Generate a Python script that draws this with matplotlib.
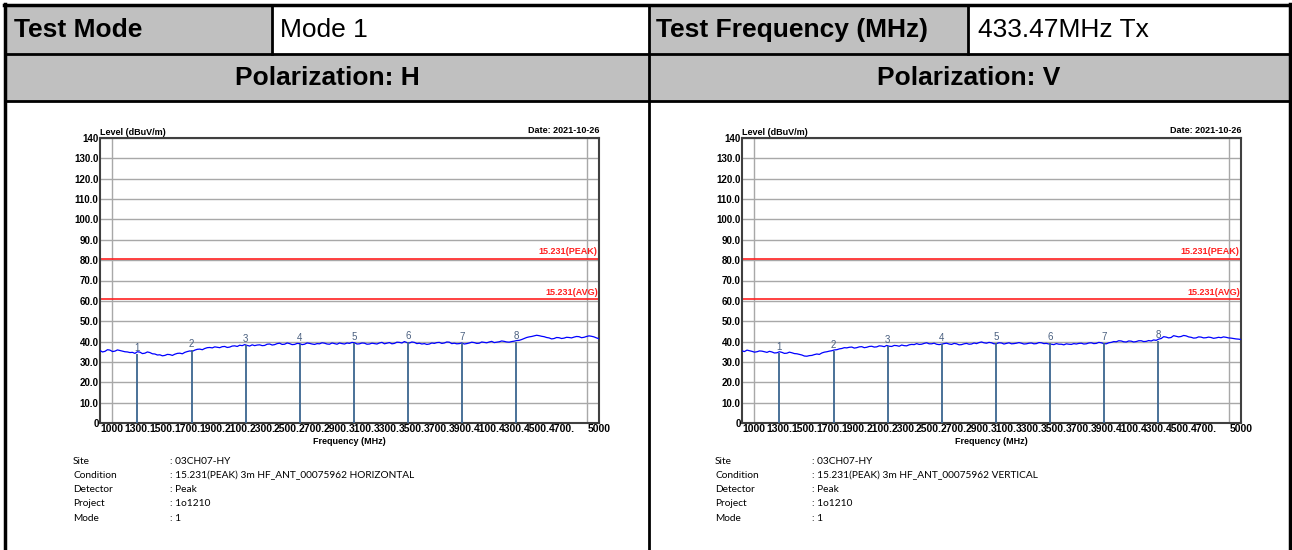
import matplotlib
matplotlib.use("Agg")
import matplotlib.pyplot as plt
from matplotlib.patches import Rectangle
from matplotlib.transforms import ScaledTranslation
import numpy as np

# header table
header_left = ["Test Mode", "Mode 1"]
header_right = ["Test Frequency (MHz)", "433.47MHz Tx"]
polarizations = ["Polarization: H", "Polarization: V"]

# x axis labels of the spectrum plots
tick_freqs = [1000, 1300, 1500, 1700, 1900, 2100, 2300, 2500, 2700, 2900,
              3100, 3300, 3500, 3700, 3900, 4100, 4300, 4500, 4700, 5000]
tick_texts = ["1000"] + [f"{f}." for f in tick_freqs[1:-1]] + ["5000"]

# limit lines (dBuV/m)
limit_peak = 80.8
limit_avg = 60.8

# harmonic markers 1..8 (MHz) and their levels
marker_freq = [1300.4, 1733.9, 2167.4, 2600.8, 3034.3, 3467.8, 3901.2, 4334.7]
marker_h = [34.0, 35.8, 38.3, 38.9, 39.2, 39.6, 39.3, 40.0]
marker_v = [34.6, 35.6, 37.8, 38.7, 39.4, 39.4, 39.4, 40.3]

# sweep traces, 1000..5000 MHz in 20 MHz steps
level_h = [35.6, 34.9, 35.2, 36.0, 35.8, 35.1, 35.3, 35.9, 35.6, 35.3, 35.0, 34.9, 34.6, 34.7, 34.2, 35.0,
           34.8, 34.1, 34.3, 34.9, 34.6, 34.0, 33.9, 33.4, 33.5, 33.0, 33.2, 33.7, 33.6, 33.2, 33.8, 34.2,
           34.3, 34.0, 34.7, 35.1, 35.4, 35.2, 35.8, 36.2, 36.3, 36.0, 36.6, 37.0, 37.1, 36.9, 37.4, 37.2,
           37.0, 37.5, 37.6, 37.1, 37.3, 37.8, 37.9, 37.6, 38.2, 38.0, 38.5, 38.1, 37.8, 38.4, 38.0, 38.3,
           38.4, 38.0, 38.1, 38.7, 38.8, 38.3, 38.5, 39.0, 39.2, 38.6, 38.7, 39.3, 39.0, 38.5, 38.6, 39.1,
           39.0, 38.5, 38.7, 39.3, 39.1, 38.8, 38.6, 39.0, 38.9, 39.4, 39.2, 38.8, 38.7, 39.3, 39.0, 38.7,
           39.3, 39.0, 38.8, 39.3, 39.1, 39.6, 39.4, 38.8, 38.9, 39.3, 39.2, 38.7, 38.8, 39.2, 39.0, 38.8,
           39.3, 39.6, 38.9, 39.2, 39.5, 38.9, 39.1, 39.7, 39.6, 39.3, 40.0, 39.5, 39.3, 39.8, 39.6, 39.0,
           39.2, 38.8, 39.0, 38.6, 38.8, 39.3, 39.1, 39.5, 39.6, 39.1, 39.3, 39.8, 39.7, 39.0, 39.2, 38.9,
           39.0, 39.3, 38.8, 39.0, 39.3, 39.7, 39.5, 39.1, 39.2, 39.8, 39.6, 39.4, 39.8, 40.1, 39.5, 39.7,
           39.9, 40.3, 40.1, 39.8, 39.7, 40.0, 40.2, 40.5, 40.6, 41.0, 41.5, 42.0, 42.3, 42.5, 42.8, 43.1,
           42.9, 42.6, 42.4, 42.0, 41.8, 41.3, 41.5, 42.0, 41.9, 41.5, 41.7, 42.1, 42.0, 41.8, 42.2, 42.5,
           42.4, 41.9, 42.1, 42.5, 42.8, 42.6, 42.3, 41.8, 41.4]
level_v = [35.4, 35.1, 35.8, 35.5, 35.2, 34.8, 35.0, 35.4, 35.3, 35.0, 34.7, 35.2, 34.9, 34.4, 34.5, 35.0,
           34.7, 34.2, 34.3, 34.8, 34.5, 34.1, 34.0, 33.7, 33.4, 32.9, 32.8, 33.1, 33.2, 33.6, 33.9, 33.7,
           34.4, 34.8, 35.0, 35.3, 35.5, 35.9, 36.0, 36.4, 36.6, 37.0, 36.9, 37.2, 37.3, 36.8, 37.0, 37.4,
           37.5, 37.0, 37.2, 37.6, 37.7, 37.3, 37.4, 37.9, 37.8, 37.5, 38.1, 37.7, 37.6, 38.1, 38.0, 37.7,
           38.3, 38.0, 37.9, 38.4, 38.6, 38.5, 39.0, 38.6, 38.7, 39.1, 39.4, 38.9, 38.9, 39.2, 38.7, 38.5,
           38.7, 39.0, 39.2, 38.8, 38.6, 39.1, 38.9, 38.4, 38.5, 38.9, 39.1, 38.7, 38.8, 39.3, 39.0, 39.5,
           39.8, 39.4, 39.2, 39.6, 39.4, 38.9, 39.0, 39.4, 39.3, 38.8, 39.1, 39.4, 38.9, 39.0, 39.2, 39.5,
           39.2, 38.8, 38.9, 39.2, 39.3, 38.9, 39.0, 39.5, 39.4, 39.0, 39.1, 38.8, 38.7, 38.5, 39.0, 38.7,
           38.7, 38.4, 38.9, 38.7, 38.6, 39.0, 38.8, 39.1, 39.2, 38.8, 38.9, 39.3, 39.4, 39.0, 39.1, 39.6,
           39.4, 39.0, 38.9, 39.4, 39.6, 40.0, 39.9, 40.4, 40.3, 39.9, 39.8, 40.3, 40.2, 39.8, 40.0, 40.4,
           40.4, 40.0, 40.1, 40.5, 40.3, 40.8, 40.6, 41.2, 41.5, 42.4, 42.2, 41.8, 42.0, 42.9, 42.6, 42.3,
           42.5, 43.0, 42.8, 42.3, 42.1, 41.7, 41.8, 42.3, 42.2, 41.8, 41.9, 42.2, 42.0, 41.6, 41.8, 42.1,
           41.9, 42.3, 42.1, 41.8, 41.7, 41.5, 41.3, 41.2, 41.0]

info_keys = ["Site", "Condition", "Detector", "Project", "Mode"]
info_h = [": 03CH07-HY", ": 15.231(PEAK) 3m HF_ANT_00075962 HORIZONTAL",
          ": Peak", ": 1o1210", ": 1"]
info_v = [": 03CH07-HY", ": 15.231(PEAK) 3m HF_ANT_00075962 VERTICAL",
          ": Peak", ": 1o1210", ": 1"]

W, H = 1292, 550
plt.rcParams['font.family'] = ['Liberation Sans', 'DejaVu Sans']
fig = plt.figure(figsize=(W / 100, H / 100), dpi=100)

# background layer in pixel coordinates for the table
bg = fig.add_axes([0, 0, 1, 1])
bg.set_xlim(0, W)
bg.set_ylim(H, 0)
bg.axis('off')

gray = '#c0c0c0'
bg.add_patch(Rectangle((5, 5), 267, 49, color=gray, lw=0))
bg.add_patch(Rectangle((649, 5), 319, 49, color=gray, lw=0))
bg.add_patch(Rectangle((5, 54), 1285, 47, color=gray, lw=0))

# table borders
bg.plot([5, 5], [4, H], color='black', lw=2.5)
bg.plot([1290, 1290], [4, H], color='black', lw=2.5)
bg.plot([4, 1291], [5, 5], color='black', lw=2.5)
bg.plot([649, 649], [5, H], color='black', lw=2)
bg.plot([5, 1290], [54, 54], color='black', lw=2)
bg.plot([5, 1290], [101, 101], color='black', lw=2)
bg.plot([272, 272], [5, 54], color='black', lw=2)
bg.plot([968, 968], [5, 54], color='black', lw=2)

hsize = 19
bg.text(14, 30, header_left[0], fontsize=hsize, fontweight='bold', va='center')
bg.text(280, 30, header_left[1], fontsize=hsize, va='center')
bg.text(656, 30, header_right[0], fontsize=hsize, fontweight='bold', va='center')
bg.text(978, 30, header_right[1], fontsize=hsize, va='center')
bg.text(327, 78, polarizations[0], fontsize=hsize, fontweight='bold', ha='center', va='center')
bg.text(969, 78, polarizations[1], fontsize=hsize, fontweight='bold', ha='center', va='center')

freq = np.linspace(1000, 5000, len(level_h))


def draw_panel(x0, level, markers, info):
    ax = fig.add_axes([x0 / W, (H - 423) / H, 499 / W, 285 / H])
    ax.set_xlim(1000, 5000)
    ax.set_ylim(0, 140)

    ax.set_xticks(np.arange(1100, 5000, 200), minor=True)
    ax.set_xticks(tick_freqs)
    ax.set_xticklabels(tick_texts, fontsize=7.5, fontweight='bold')
    labels = ax.get_xticklabels()
    labels[0].set_ha('left')
    for lab in labels[1:-1]:
        lab.set_transform(lab.get_transform() + ScaledTranslation(4 / 100, 0, fig.dpi_scale_trans))
    labels[-1].set_transform(labels[-1].get_transform() + ScaledTranslation(-3 / 100, 0, fig.dpi_scale_trans))
    ax.set_yticks(np.arange(0, 141, 10))
    ax.set_yticklabels(["0"] + [f"{v:.1f}" for v in range(10, 140, 10)] + ["140"],
                       fontsize=7, fontweight='bold')
    ax.tick_params(axis='both', which='both', length=0, pad=1)
    ax.grid(True, axis='x', which='minor', color='#a8a8a8', lw=1)
    ax.grid(True, axis='y', which='major', color='#a8a8a8', lw=1)
    for s in ax.spines.values():
        s.set_color('#404040')
        s.set_linewidth(1.5)

    ax.axhline(limit_peak, color='#ff2020', lw=1.2)
    ax.axhline(limit_avg, color='#ff2020', lw=1.2)
    ax.text(4990, limit_peak + 1.2, "15.231(PEAK)", color='#ff2020', fontsize=6.5,
            fontweight='bold', ha='right', va='bottom')
    ax.text(4990, limit_avg + 1.2, "15.231(AVG)", color='#ff2020', fontsize=6.5,
            fontweight='bold', ha='right', va='bottom')

    ax.plot(freq, level, color='#0000ff', lw=0.9, zorder=3)
    ax.vlines(marker_freq, 0, markers, color='#3c6690', lw=1.3, zorder=4)
    for i, (f, m) in enumerate(zip(marker_freq, markers)):
        ax.text(f, m + 0.5, str(i + 1), color='#4a6080', fontsize=7, ha='center',
                va='bottom', zorder=5)

    ax.text(0, 1.005, "Level (dBuV/m)", transform=ax.transAxes, fontsize=6.5,
            fontweight='bold', ha='left', va='bottom')
    ax.text(1, 1.01, "Date: 2021-10-26", transform=ax.transAxes, fontsize=6.5,
            fontweight='bold', ha='right', va='bottom')
    ax.set_xlabel("Frequency (MHz)", fontsize=6.5, fontweight='bold', labelpad=2)

    for k, (key, val) in enumerate(zip(info_keys, info)):
        y = 461 + k * 14.3
        bg.text(x0 - 27, y, key, fontsize=7.3, family='Lato', va='center')
        bg.text(x0 + 70, y, val, fontsize=7.3, family='Lato', va='center')


draw_panel(100, level_h, marker_h, info_h)
draw_panel(742, level_v, marker_v, info_v)

fig.savefig("out.png", dpi=100)
